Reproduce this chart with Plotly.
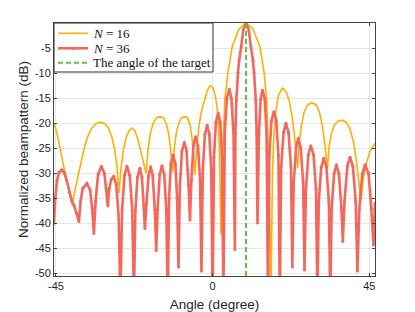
import plotly.graph_objects as go

# ---------------- data ----------------
# N = 16 beampattern: angle (degree) and normalized level (dB)
n16_angle = [
    -45.6, -44.9, -44.1, -43.2, -42.2, -41.2, -40.35,
    -39.2, -38.0, -36.8, -35.8, -34.7, -33.5, -32.2, -31.0, -30.0, -29.0, -28.2, -27.5, -26.9,
    -26.3, -25.6, -24.8, -24.0, -23.1, -22.3, -21.6, -20.8, -20.0, -19.1,
    -18.5, -17.8, -17.0, -16.1, -15.15, -14.2, -13.4, -12.7, -12.1, -11.5,
    -11.0, -10.4, -9.7, -8.9, -8.0, -7.2, -6.5, -6.0, -5.5, -5.1,
    -4.6, -4.0, -3.2, -2.2, -1.4, -0.7, 0.1, 0.8, 1.4, 1.9, 2.4,
    2.9, 3.5, 4.4, 5.6, 7.6, 9.6, 11.6, 13.6, 14.8, 15.6, 16.2, 16.75,
    17.2, 17.6, 18.2, 18.9, 20.0, 21.1, 22.0, 22.8, 23.6, 24.4,
    24.9, 25.5, 26.3, 27.3, 28.5, 29.7, 30.7, 31.5, 32.2, 33.0,
    33.5, 34.2, 35.0, 36.0, 37.2, 38.4, 39.5, 40.5, 41.3, 42.0, 42.6,
    43.3, 44.2, 45.3, 46.65,
]
n16_db = [
    -20.0, -21.5, -24.0, -27.3, -30.6, -33.6, -36.3,
    -32.2, -28.5, -24.8, -22.5, -21.0, -20.1, -19.8, -20.1, -20.9, -22.6, -25.0, -28.5, -34.0,
    -28.8, -25.2, -22.8, -21.5, -21.0, -21.6, -22.9, -25.1, -27.5, -30.0,
    -25.0, -21.8, -19.9, -18.9, -18.7, -18.9, -19.9, -21.8, -25.0, -29.8,
    -25.0, -21.8, -19.9, -18.9, -18.7, -18.9, -20.3, -22.5, -26.0, -30.3,
    -25.5, -21.0, -17.5, -15.2, -13.3, -12.5, -12.9, -14.5, -17.5, -24.0, -42.2,
    -26.0, -15.4, -9.9, -4.8, -1.2, 0.0, -1.2, -4.8, -9.9, -16.0, -30.0, -55.0,
    -30.0, -22.5, -17.5, -14.5, -13.0, -13.7, -15.5, -18.5, -23.0, -29.0,
    -24.0, -20.5, -17.8, -16.3, -15.9, -16.3, -17.8, -20.5, -24.0, -29.0,
    -24.5, -21.8, -20.3, -19.6, -19.4, -19.8, -21.2, -23.8, -27.5, -31.5, -35.6,
    -31.0, -27.8, -25.5, -24.0,
]

# N = 36 beampattern: angle (degree) and normalized level (dB)
n36_angle = [
    -45.6, -45.2, -44.7, -44.1, -43.3, -42.6, -41.9, -41.2, -40.5, -39.8, -39.0, -38.4,
    -37.9, -37.3, -36.1, -35.2, -34.6, -34.1,
    -33.6, -32.9, -31.95, -31.1, -30.6, -30.1,
    -29.7, -29.1, -28.4, -27.7, -27.0, -26.5,
    -26.0, -25.3, -24.6, -23.8, -23.1, -22.6,
    -22.2, -21.6, -20.9, -20.3, -19.8, -19.45,
    -19.0, -18.4, -17.8, -17.2, -16.6, -16.2,
    -15.8, -15.2, -14.55, -13.9, -13.3, -12.9,
    -12.5, -12.0, -11.35, -10.7, -10.2, -9.8,
    -9.4, -8.8, -8.1, -7.5, -6.9, -6.5,
    -6.1, -5.5, -4.9, -4.2, -3.6, -3.2,
    -2.8, -2.2, -1.55, -0.95, -0.4, 0.0,
    0.4, 0.95, 1.6, 2.2, 2.7, 3.1,
    3.5, 4.1, 4.8, 5.4, 6.0, 6.4,
    6.55, 6.8, 7.3, 7.6, 8.2, 8.8, 9.6, 10.4, 11.0, 11.6, 11.9, 12.4, 12.65, 12.9,
    13.3, 13.8, 14.35, 15.0, 15.5, 15.9,
    16.3, 16.9, 17.6, 18.3, 18.9, 19.3,
    19.7, 20.4, 21.05, 21.8, 22.5, 22.9,
    23.3, 24.0, 24.6, 25.3, 26.0, 26.4,
    26.8, 27.5, 28.2, 29.0, 29.7, 30.1,
    30.5, 31.2, 31.95, 32.7, 33.4, 33.8,
    34.2, 34.9, 35.55, 36.3, 37.0, 37.4,
    37.9, 38.7, 39.45, 40.3, 41.1, 41.6,
    42.15, 43.0, 43.8, 44.8, 45.6, 46.2,
    46.65,
]
n36_db = [
    -40.0, -35.0, -31.5, -29.8, -29.3, -29.9, -31.5, -33.8, -35.4, -36.4, -38.0, -39.6,
    -35.5, -33.0, -32.0, -33.3, -37.0, -42.0,
    -35.5, -30.2, -28.6, -30.0, -33.0, -36.5,
    -33.0, -31.2, -30.6, -32.2, -38.5, -55.0,
    -37.3, -30.4, -28.6, -30.4, -37.3, -55.0,
    -37.7, -30.8, -29.0, -30.8, -36.5, -41.0,
    -36.0, -30.5, -28.7, -30.5, -37.4, -45.4,
    -37.2, -30.3, -28.5, -30.3, -37.2, -55.0,
    -35.0, -28.1, -26.3, -28.1, -35.0, -48.7,
    -32.4, -25.5, -23.8, -25.5, -32.4, -39.3,
    -31.4, -24.5, -22.7, -24.5, -31.4, -49.5,
    -29.1, -22.2, -20.4, -22.2, -29.1, -55.0,
    -26.7, -19.8, -18.0, -19.8, -26.7, -55.0,
    -21.9, -15.0, -13.2, -15.0, -21.9, -45.2,
    -22.0, -15.4, -9.9, -7.5, -4.8, -1.4, 0.0, -1.4, -4.8, -7.5, -9.9, -15.4, -22.0, -39.9,
    -22.1, -15.2, -13.4, -15.2, -22.1, -55.0,
    -26.4, -19.5, -17.7, -19.5, -26.4, -55.0,
    -28.7, -21.8, -20.0, -21.8, -28.7, -48.7,
    -31.7, -24.8, -23.0, -24.8, -31.7, -49.3,
    -33.2, -26.3, -24.5, -26.3, -33.2, -55.0,
    -35.7, -28.8, -27.0, -28.8, -35.7, -55.0,
    -37.0, -30.1, -28.3, -30.1, -37.0, -43.6,
    -35.5, -28.6, -26.8, -28.6, -35.5, -49.5,
    -37.0, -30.1, -28.3, -30.1, -37.0, -44.3,
    -36.0,
]

target_angle = 9.6
x_range = [-45.56, 46.65]
y_range = [-50.5, 0.0]
x_ticks = [-45, 0, 45]
y_ticks = [-50, -45, -40, -35, -30, -25, -20, -15, -10, -5]

series_names = ["<i>N</i> = 16", "<i>N</i> = 36", "The angle of the target"]

# ---------------- styles ----------------
C16 = "#FFB000"
C36 = "#F4675B"
CTG = "#62BE4C"
DASH = "5px,3px"

fig = go.Figure()
fig.add_trace(go.Scatter(
    x=n16_angle, y=n16_db, mode="lines", name=series_names[0],
    line=dict(color=C16, width=1.6), showlegend=False,
))
fig.add_trace(go.Scatter(
    x=n36_angle, y=n36_db, mode="lines+markers", name=series_names[1],
    line=dict(color=C36, width=2.6),
    marker=dict(color=C36, size=3), showlegend=False,
))
fig.add_trace(go.Scatter(
    x=[target_angle, target_angle], y=[y_range[1], y_range[0]], mode="lines",
    name=series_names[2],
    line=dict(color=CTG, width=2, dash=DASH), showlegend=False,
))

# ---------------- legend box (top-left, MATLAB style) ----------------
box_x1 = 0.4953
box_y0 = 0.8063
row_y = [0.9593, 0.9000, 0.8431]
sample_x = [0.0125, 0.1059]
text_x = 0.1168
shapes = [dict(type="rect", xref="paper", yref="paper", x0=0, x1=box_x1, y0=box_y0, y1=1,
               fillcolor="white", line=dict(color="#333333", width=1), layer="above")]
sample_styles = [dict(color=C16, width=1.6), dict(color=C36, width=2.6),
                 dict(color=CTG, width=2, dash=DASH)]
annotations = []
for name, ry, st in zip(series_names, row_y, sample_styles):
    shapes.append(dict(type="line", xref="paper", yref="paper", x0=sample_x[0], x1=sample_x[1],
                       y0=ry, y1=ry, line=st, layer="above"))
    annotations.append(dict(text=name, xref="paper", yref="paper", x=text_x, y=ry,
                            xanchor="left", yanchor="middle", showarrow=False,
                            font=dict(family="Liberation Serif, Times New Roman, serif",
                                      size=13, color="#111111")))
mid = (sample_x[0] + sample_x[1]) / 2
shapes.append(dict(type="circle", xref="paper", yref="paper",
                   x0=mid - 0.005, x1=mid + 0.005, y0=row_y[1] - 0.0065, y1=row_y[1] + 0.0065,
                   fillcolor=C36, line=dict(color=C36, width=0), layer="above"))

axis_common = dict(
    showline=True, linecolor="#444444", linewidth=1, mirror="ticks",
    ticks="inside", ticklen=3, tickcolor="#444444",
    showgrid=True, gridcolor="#E6E6E6", gridwidth=1, zeroline=False,
    tickfont=dict(family="Liberation Sans, Arial, sans-serif", size=11, color="#262626"),
    automargin=False,
)

fig.update_layout(
    width=415, height=312,
    margin=dict(l=54, r=40, t=23, b=36),
    paper_bgcolor="white", plot_bgcolor="white",
    font=dict(family="Liberation Sans, Arial, sans-serif", color="#262626"),
    showlegend=False,
    shapes=shapes,
    annotations=annotations,
)
fig.update_xaxes(
    range=x_range, tickvals=x_ticks, ticktext=[str(v) for v in x_ticks],
    title=dict(text="Angle (degree)", font=dict(size=13.5, color="#262626"), standoff=9),
    **axis_common,
)
fig.update_yaxes(
    range=y_range, tickvals=y_ticks, ticktext=[str(v) for v in y_ticks],
    title=dict(text="Normalized beampattern (dB)", font=dict(size=13.5, color="#262626"), standoff=3),
    **axis_common,
)

fig.write_html("out.html",
               config={"displayModeBar": False, "staticPlot": True},
               post_script="document.body.style.margin='0px';document.body.style.overflow='hidden';")
